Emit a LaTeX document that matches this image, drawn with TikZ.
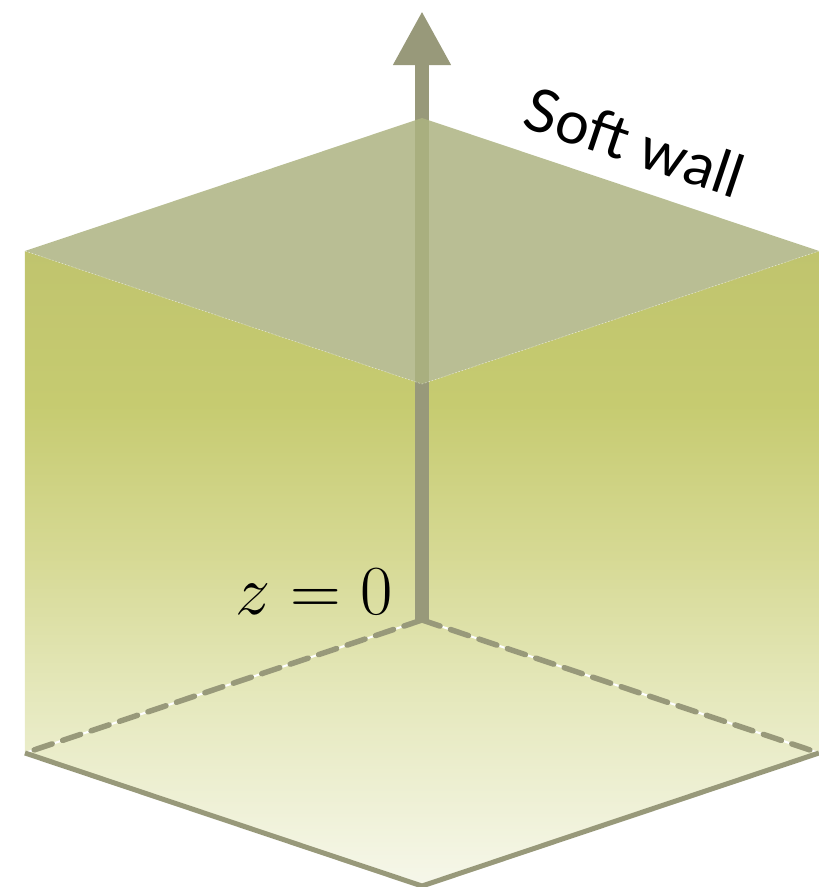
\RequirePackage{fix-cm}
\documentclass[tikz,border=0pt]{standalone}
\usepackage{fontspec}
\newfontfamily\wallfont{Lato}
\usetikzlibrary{arrows.meta}
\definecolor{axisgray}{RGB}{152,153,122}
\definecolor{lidcolor}{RGB}{173,179,129}
\definecolor{bulktop}{RGB}{192,196,110}
\definecolor{bulksat}{RGB}{198,203,112}
\definecolor{bulkmid}{RGB}{214,217,148}
\definecolor{bulklow}{RGB}{229,232,188}
\definecolor{bulkbot}{RGB}{246,247,234}
\pgfdeclareverticalshading{bulk}{100bp}{color(0bp)=(bulkbot); color(25bp)=(bulkbot);
  color(40bp)=(bulklow); color(51bp)=(bulkmid); color(63bp)=(bulksat); color(75bp)=(bulktop); color(100bp)=(bulktop)}

\begin{document}
\begin{tikzpicture}[>=Stealth,
    face/.style={shading=bulk, draw=none},
    hidden/.style={draw=axisgray, line width=0.11cm, dash pattern=on 0.38cm off 0.22cm, line cap=round},
    rim/.style={draw=axisgray, line width=0.1cm},
    every node/.style={inner sep=0pt}]
    \useasboundingbox (-8.44,-5.34) rectangle (7.94,12.4);
    % corners of the box
    \coordinate (b) at (0,0);
    \coordinate (l) at (-7.94,-2.66);
    \coordinate (f) at (0,-5.32);
    \coordinate (r) at (7.94,-2.66);
    \coordinate (bt) at (0,10.04);
    \coordinate (lt) at (-7.94,7.38);
    \coordinate (ft) at (0,4.72);
    \coordinate (rt) at (7.94,7.38);
    \coordinate (tip) at (0,12.18);
    \shade[face] (lt) -- (ft) -- (f) -- (l) -- cycle;
    \shade[face] (ft) -- (rt) -- (r) -- (f) -- cycle;
    \draw[white, line width=0.04cm] (l) -- (b) -- (r);
    \draw[hidden] (b) -- (l);
    \draw[hidden] (b) -- (r);
    \draw[axisgray, line width=0.28cm, -{Triangle[width=1.08cm, length=1.08cm]}] (b) -- (tip);
    \fill[lidcolor, opacity=0.85] (lt) -- (bt) -- (rt) -- (ft) -- cycle;
    \draw[white, opacity=0.5, line width=0.3pt, dash pattern=on 1pt off 1pt] (lt) -- (ft) -- (rt);
    \draw[rim] (l) -- (f) -- (r);
    \path (bt) -- (rt) node[midway, sloped, above=0.44cm, font=\wallfont\fontsize{34}{40}\selectfont] (wall) {Soft wall};
    \node[anchor=base east, font=\fontsize{40}{48}\selectfont] (zero) at ([xshift=-0.58cm, yshift=0.12cm]b) {$z=0$};
\end{tikzpicture}
\end{document}
